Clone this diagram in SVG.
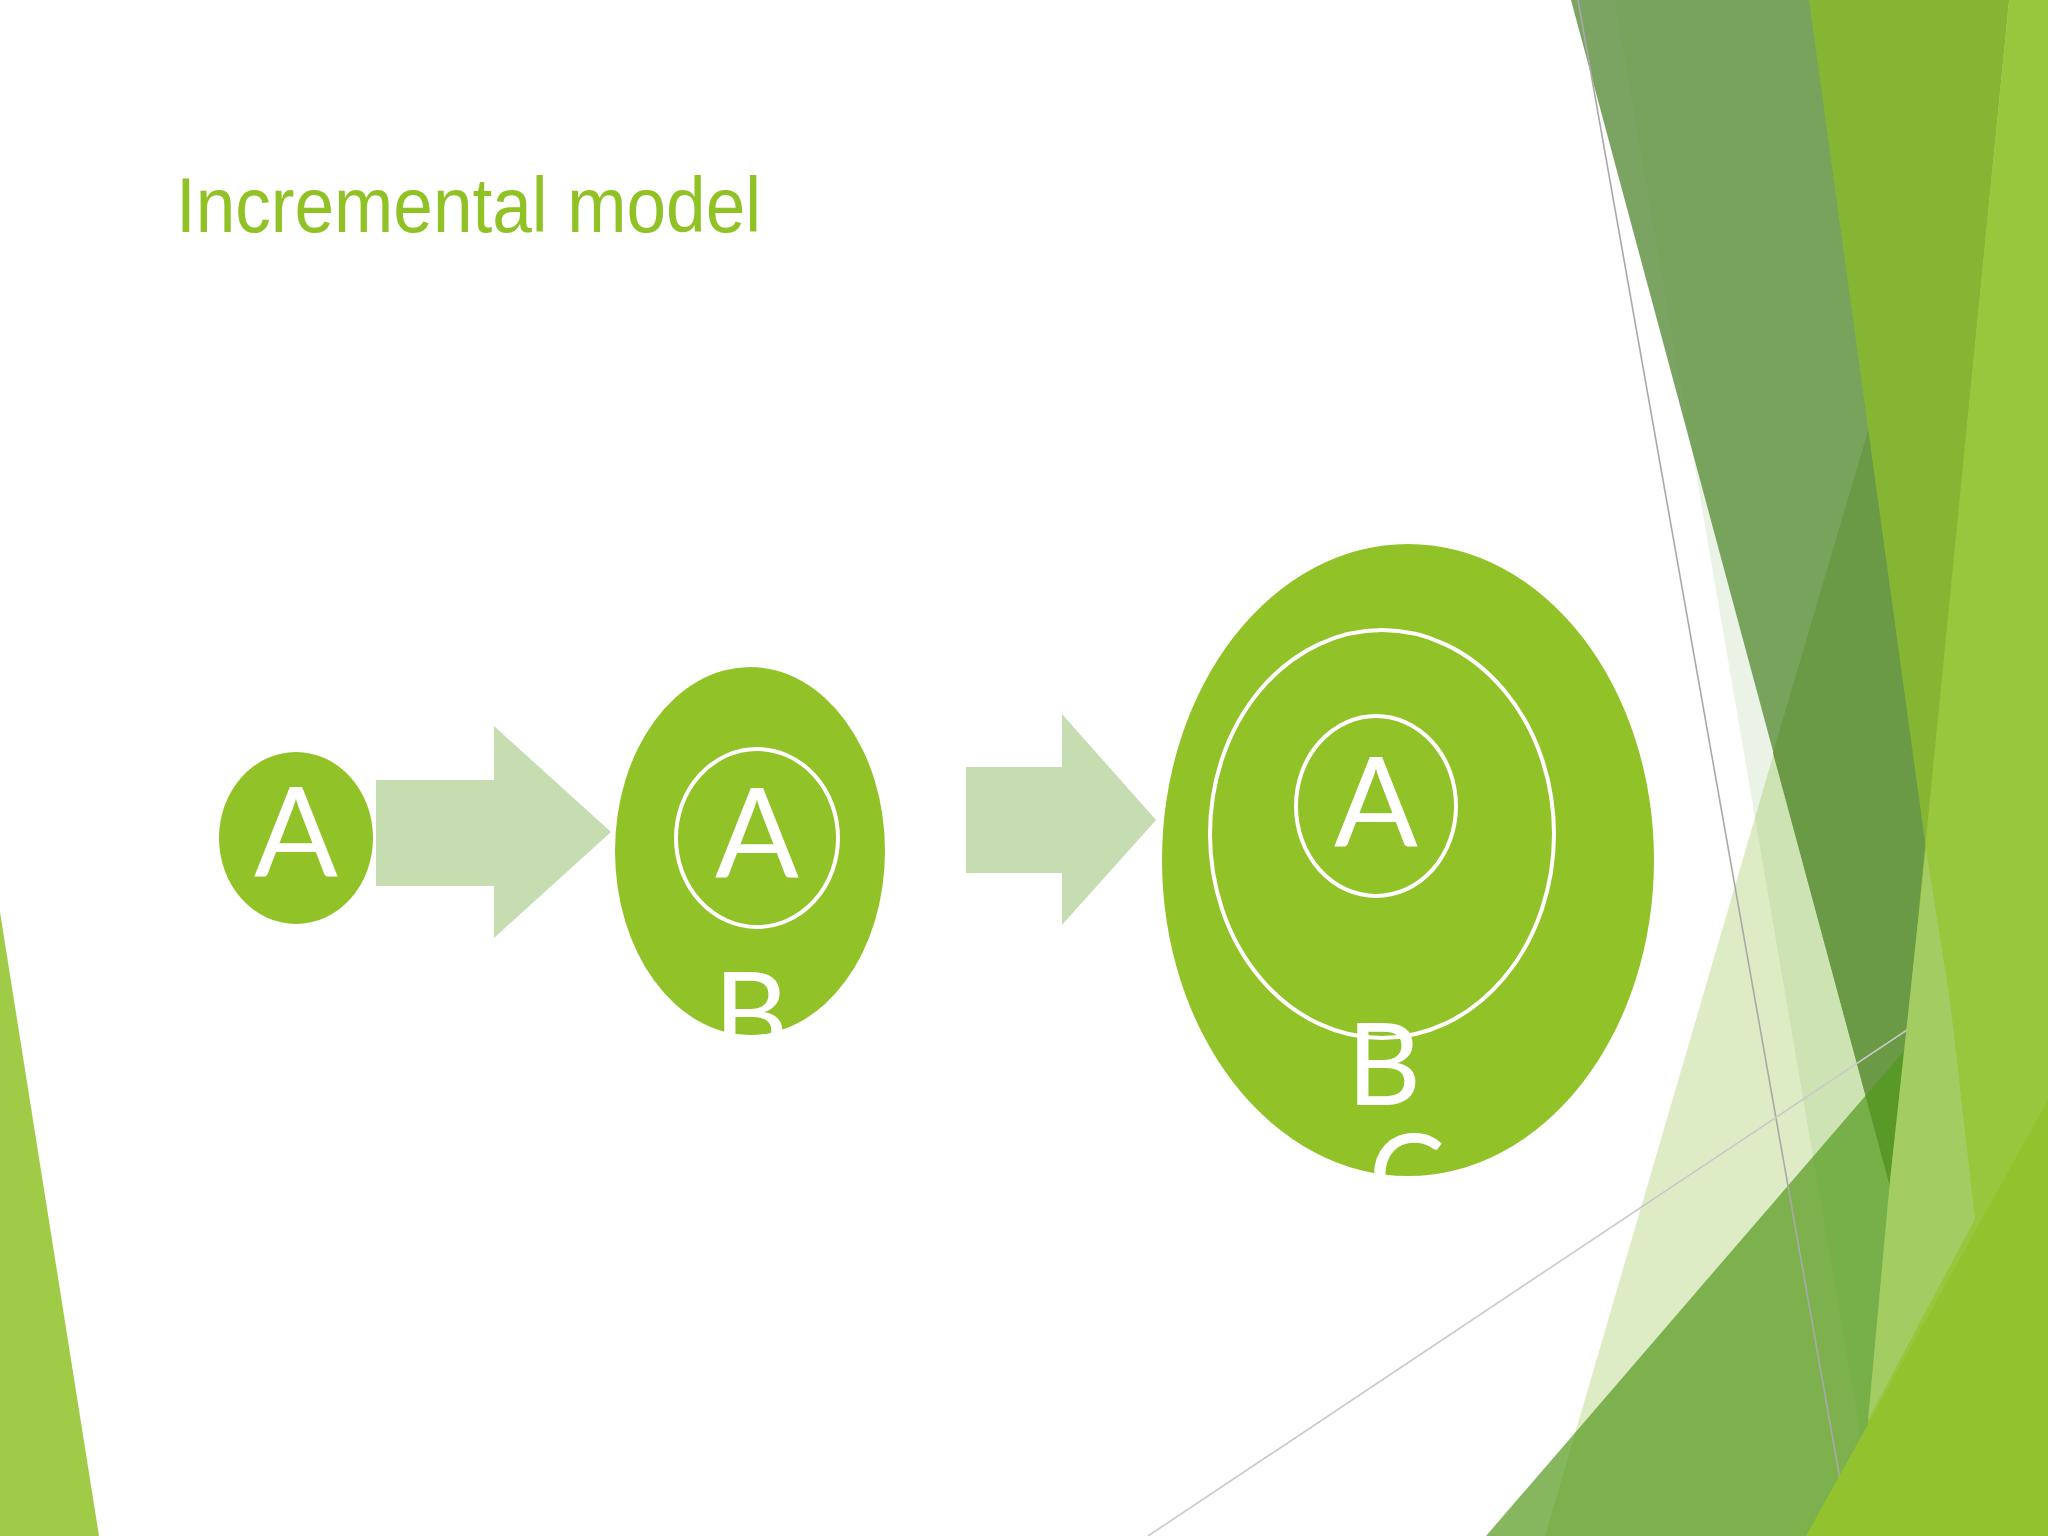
<svg xmlns="http://www.w3.org/2000/svg" width="2048" height="1536" viewBox="0 0 2048 1536">
  <style>
    .blob { fill: #91c228; }
    .ring { fill: none; stroke: #ffffff; stroke-width: 4; }
    .lbl { font-family: Lato, "Open Sans", "Liberation Sans", sans-serif; fill: #ffffff; text-anchor: middle; }
    .big { font-size: 124px; }
    .mid { font-size: 115px; }
    .arrow { fill: #c6ddb1; }
    .title { font-family: "Liberation Sans", Arial, sans-serif; font-size: 78px; fill: #90c226; }
    .thin1 { stroke: #a9a9a9; stroke-width: 1.6; fill: none; }
    .thin2 { stroke: #c9c9c9; stroke-width: 1.6; fill: none; }
  </style>

  <rect width="2048" height="1536" fill="#ffffff"/>

  <g id="background">
    <polygon points="0,912 99,1536 0,1536" fill="#a0cb46"/>
    <polygon points="1571,0 2009,0 1891,1190" fill="#7ba462"/>
    <polygon points="1615,0 2048,0 2048,1536 1878,1536" fill="#5a9a30" fill-opacity="0.12"/>
    <polygon points="1545,1536 1868,431 2048,431 2048,1536" fill="#80b828" fill-opacity="0.27"/>
    <polygon points="1773,753 1868,431 2000,431 2000,1300 1891,1190" fill="#6a9a45"/>
    <polygon points="1486,1536 2048,884 2048,1536" fill="#52981b" fill-opacity="0.7"/>
    <line class="thin1" x1="1578" y1="0" x2="1850" y2="1536"/>
    <line class="thin2" x1="1148" y1="1536" x2="2048" y2="936"/>
    <polygon points="1809,0 2009,0 1926,849" fill="#86b534"/>
    <polygon points="2009,0 2048,0 2048,1536 1857,1536" fill="#98c63d"/>
    <polygon points="1926,849 1950,1000 1975,1219 1868,1420 1890,1180" fill="#a3cc62"/>
    <polygon points="1806,1536 2048,1100 2048,1536" fill="#93c22f"/>
  </g>

  <text class="title" x="176" y="232" textLength="585" lengthAdjust="spacingAndGlyphs">Incremental model</text>

  <g id="node-A">
    <ellipse class="blob" cx="296" cy="838" rx="77" ry="86"/>
    <text class="lbl big" x="296" y="876">A</text>
  </g>

  <g id="node-AB">
    <ellipse class="blob" cx="750" cy="851" rx="135" ry="184"/>
    <ellipse class="ring" cx="757" cy="838" rx="81" ry="89"/>
    <text class="lbl big" x="757" y="877">A</text>
    <text class="lbl mid" x="751" y="1054">B</text>
  </g>

  <g id="node-ABC">
    <ellipse class="blob" cx="1408" cy="860" rx="246" ry="316"/>
    <ellipse class="ring" cx="1382" cy="834" rx="172" ry="204"/>
    <ellipse class="ring" cx="1376" cy="806" rx="80" ry="90"/>
    <text class="lbl big" x="1376" y="846">A</text>
    <text class="lbl mid" x="1384" y="1105">B</text>
    <text class="lbl mid" x="1407" y="1216">C</text>
  </g>

  <g id="connectors">
    <polygon class="arrow" points="376,780 494,780 494,726 611,832 494,938 494,886 376,886"/>
    <polygon class="arrow" points="966,767 1062,767 1062,714 1156,820 1062,925 1062,873 966,873"/>
  </g>
</svg>
